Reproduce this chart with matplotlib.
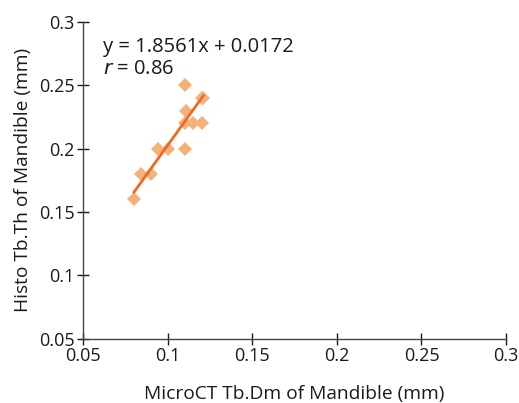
import numpy as np
import matplotlib
matplotlib.use('Agg')
import matplotlib.pyplot as plt

plt.rcParams['font.family'] = ['Open Sans', 'DejaVu Sans']

# values
microct = [0.08, 0.084, 0.09, 0.094, 0.10, 0.11, 0.11, 0.11, 0.111, 0.115, 0.12, 0.12, 0.121]
histo = [0.16, 0.18, 0.18, 0.20, 0.20, 0.20, 0.22, 0.25, 0.23, 0.22, 0.22, 0.24, 0.24]
slope = 1.8561
intercept = 0.0172
r_value = 0.86

fig = plt.figure(figsize=(5.19, 4.03), dpi=100)
ax = fig.add_axes([0.1605, 0.159, 0.8145, 0.787])

ax.plot(microct, histo, 'D', color='#F2B27A', markersize=7, markeredgewidth=0, zorder=2)
xf = np.array([min(microct), max(microct)])
ax.plot(xf, slope*xf + intercept, color='#EE6A22', linewidth=2, zorder=3)

ax.set_xlim(0.05, 0.3)
ax.set_ylim(0.05, 0.3)
ax.set_xticks([0.05, 0.1, 0.15, 0.2, 0.25, 0.3])
ax.set_xticklabels(['0.05', '0.1', '0.15', '0.2', '0.25', '0.3'])
ax.set_yticks([0.05, 0.1, 0.15, 0.2, 0.25, 0.3])
ax.set_yticklabels(['0.05', '0.1', '0.15', '0.2', '0.25', '0.3'])
ax.tick_params(direction='inout', length=8, width=1, labelsize=13, colors='#1a1a1a', pad=2)
ax.spines['top'].set_visible(False)
ax.spines['right'].set_visible(False)
for s in ['left', 'bottom']:
    ax.spines[s].set_color('#444444')
    ax.spines[s].set_linewidth(1)

ax.set_xlabel('MicroCT Tb.Dm of Mandible (mm)', fontsize=13.8, color='#1a1a1a', labelpad=14)
ax.set_ylabel('Histo Tb.Th of Mandible (mm)', fontsize=13.8, color='#1a1a1a', labelpad=5)

ax.text(0.0615, 0.2761, 'y = %.4fx + %.4f' % (slope, intercept), fontsize=14.5, color='#1a1a1a')
ax.text(0.0615, 0.2588, '$r$ = %.2f' % r_value, fontsize=14.5, color='#1a1a1a')

fig.savefig('out.png', dpi=100)
